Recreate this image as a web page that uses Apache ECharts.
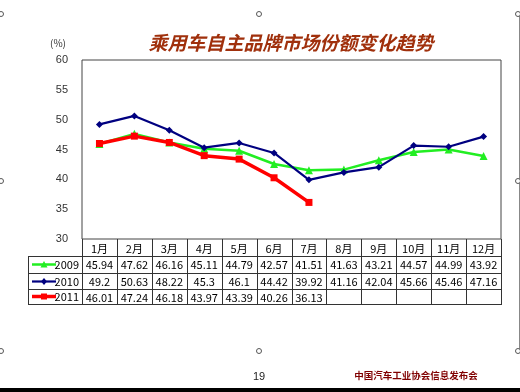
<!DOCTYPE html>
<html><head><meta charset="utf-8">
<script src="https://cdn.jsdelivr.net/npm/echarts@6/dist/echarts.min.js"></script>
<style>html,body{margin:0;padding:0;background:#fff}#c{width:520px;height:392px}</style>
</head><body><div id="c"></div>
<script>
var months = ['1月','2月','3月','4月','5月','6月','7月','8月','9月','10月','11月','12月'];
var seriesNames = ['2009','2010','2011'];
var v2009 = [45.94,47.62,46.16,45.11,44.79,42.57,41.51,41.63,43.21,44.57,44.99,43.92];
var v2010 = [49.2,50.63,48.22,45.3,46.1,44.42,39.92,41.16,42.04,45.66,45.46,47.16];
var v2011 = [46.01,47.24,46.18,43.97,43.39,40.26,36.13];
var yTicks = [30,35,40,45,50,55,60];
var titleText = '乘用车自主品牌市场份额变化趋势';
var unitText = '(%)';
var pageNo = '19';
var footerText = '中国汽车工业协会信息发布会';

var G = {left:82, right:501, top:60, bottom:239};
var rowH = [256, 272.5, 288.5, 304];
var tableLeft = 28;
var cellW = (G.right - G.left) / months.length;

var allVals = [v2009, v2010, v2011];
var colors = ['#22ee22', '#000080', '#ff0000'];
var symbols = ['triangle', 'diamond', 'rect'];
var symSizes = [8, 7, 7];
var widths = [2.5, 2.2, 3.5];

var graphics = [];
function hline(x1,x2,y,c){graphics.push({type:'line',shape:{x1:x1,y1:y,x2:x2,y2:y},style:{stroke:c||'#333',lineWidth:1},silent:true});}
function vline(x,y1,y2,c){graphics.push({type:'line',shape:{x1:x,y1:y1,x2:x,y2:y2},style:{stroke:c||'#333',lineWidth:1},silent:true});}
for (var k=0;k<=months.length;k++){ vline(Math.round(G.left + cellW*k)+0.5, G.bottom, rowH[3]); }
vline(tableLeft+0.5, rowH[0], rowH[3]);
rowH.forEach(function(y){ hline(tableLeft, G.right+1, Math.round(y)+0.5); });
// legend keys inside the table's first column
seriesNames.forEach(function(name, i){
  var cy = Math.round((rowH[i]+rowH[i+1])/2)+0.5;
  graphics.push({type:'line',shape:{x1:32,y1:cy,x2:56,y2:cy},style:{stroke:colors[i],lineWidth:widths[i]},silent:true});
  var cx = 44, s = 3.5;
  if (symbols[i]==='triangle') graphics.push({type:'polygon',shape:{points:[[cx,cy-s],[cx+s,cy+s-0.5],[cx-s,cy+s-0.5]]},style:{fill:colors[i]},silent:true});
  else if (symbols[i]==='diamond') graphics.push({type:'polygon',shape:{points:[[cx,cy-s],[cx+s-0.5,cy],[cx,cy+s],[cx-s+0.5,cy]]},style:{fill:colors[i]},silent:true});
  else graphics.push({type:'rect',shape:{x:cx-3,y:cy-3,width:6,height:6},style:{fill:colors[i]},silent:true});
  graphics.push({type:'text',x:79,y:cy+0.5,style:{text:name,fill:'#000',font:'11px "Noto Sans CJK SC"',align:'right',verticalAlign:'middle'},silent:true});
});
// slide selection frame decorations
vline(519.5, 14, 351, '#888');
[[1,14],[259,14],[518,14],[1,181],[518,181],[1,351],[259,351],[518,351]].forEach(function(p){
  graphics.push({type:'circle',shape:{cx:p[0],cy:p[1],r:2.5},style:{fill:'#fff',stroke:'#555',lineWidth:1},silent:true});
});
graphics.push({type:'rect',shape:{x:0,y:388,width:520,height:4},style:{fill:'#000'},silent:true});
graphics.push({type:'text',x:291,y:43,style:{text:titleText,fill:'#a0300c',font:'italic bold 19px "Noto Sans CJK SC"',align:'center',verticalAlign:'middle'}});
graphics.push({type:'text',x:58,y:43,style:{text:unitText,fill:'#333',font:'10px "Noto Sans CJK SC"',align:'center',verticalAlign:'middle'}});
graphics.push({type:'text',x:259,y:377,style:{text:pageNo,fill:'#222',font:'11px "Liberation Sans"',align:'center',verticalAlign:'middle'}});
graphics.push({type:'text',x:416,y:375,style:{text:footerText,fill:'#800000',font:'bold 9.5px "Noto Sans CJK SC"',align:'center',verticalAlign:'middle'}});

var xAxes = [{
  type:'category', data:months, gridIndex:0, position:'bottom', boundaryGap:true,
  axisLine:{show:false}, axisTick:{show:false},
  axisLabel:{interval:0, margin:4, fontSize:11, color:'#000', fontFamily:'"Noto Sans CJK SC"'}
}];
allVals.forEach(function(vals, si){
  xAxes.push({
    type:'category', data:months, gridIndex:0, position:'bottom', offset: Math.round(rowH[si]-G.bottom),
    axisLine:{show:false}, axisTick:{show:false},
    axisLabel:{interval:0, margin:3, fontSize:11, color:'#000', fontFamily:'"Noto Sans CJK SC"',
      formatter:(function(v){return function(val, i){return v[i]===undefined?'':String(v[i]);};})(vals)}
  });
});

var option = {
  animation:false,
  grid:{left:G.left, top:G.top, width:G.right-G.left, height:G.bottom-G.top, show:true, borderColor:'#444', borderWidth:1, backgroundColor:'transparent'},
  xAxis: xAxes,
  yAxis:{type:'value', min:yTicks[0], max:yTicks[yTicks.length-1], interval:5,
    axisLine:{show:false}, axisTick:{show:false}, splitLine:{show:false},
    axisLabel:{margin:14, fontSize:11, color:'#333', fontFamily:'"Liberation Sans"'}},
  series: allVals.map(function(vals, i){
    return {name:seriesNames[i], type:'line', data:vals, xAxisIndex:0,
      symbol:symbols[i], symbolSize:symSizes[i], showSymbol:true,
      lineStyle:{color:colors[i], width:widths[i]}, itemStyle:{color:colors[i]}, z: 3+i};
  }),
  graphic: graphics
};
var chart = echarts.init(document.getElementById('c'), null, {renderer:'canvas'});
chart.setOption(option);
</script></body></html>
